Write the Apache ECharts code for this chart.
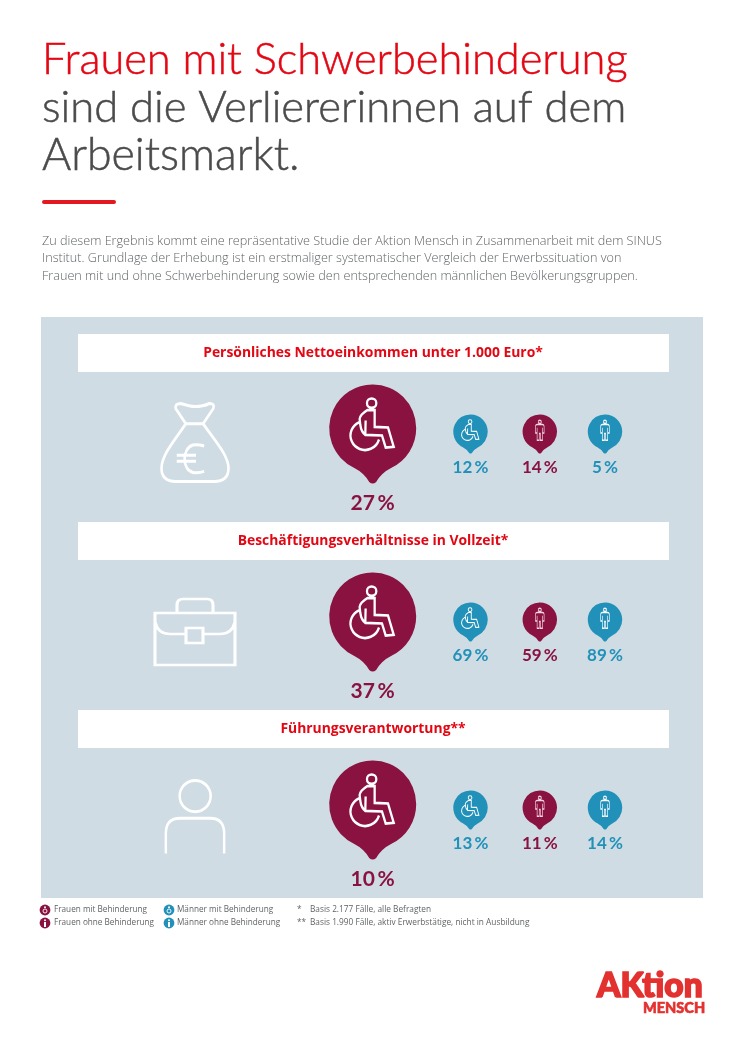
<!DOCTYPE html>
<html><head><meta charset="utf-8">
<style>html,body{margin:0;padding:0;background:#fff}#c{width:746px;height:1055px}</style>
<script src="https://cdn.jsdelivr.net/npm/echarts@6/dist/echarts.min.js"></script>
</head><body><div id="c"></div>
<script>
// ---- data ----
const metrics = ['Persönliches Nettoeinkommen unter 1.000 Euro*','Beschäftigungsverhältnisse in Vollzeit*','Führungsverantwortung**'];
const groups = ['Frauen mit Behinderung','Männer mit Behinderung','Frauen ohne Behinderung','Männer ohne Behinderung'];
const frauenMitBehinderung = [27,37,10];
const maennerMitBehinderung = [12,69,13];
const frauenOhneBehinderung = [14,59,11];
const maennerOhneBehinderung = [5,89,14];
const titleRed = 'Frauen mit Schwerbehinderung';
const titleDark = ['sind die Verliererinnen auf dem','Arbeitsmarkt.'];
const intro = ['Zu diesem Ergebnis kommt eine repräsentative Studie der Aktion Mensch in Zusammenarbeit mit dem SINUS','Institut. Grundlage der Erhebung ist ein erstmaliger systematischer Vergleich der Erwerbssituation von','Frauen mit und ohne Schwerbehinderung sowie den entsprechenden männlichen Bevölkerungsgruppen.'];
const footnotes = [['*','Basis 2.177 Fälle, alle Befragten'],['**','Basis 1.990 Fälle, aktiv Erwerbstätige, nicht in Ausbildung']];

// ---- style / layout ----
const MAROON='#8a1240', TEAL='#2191b9', RED='#e30613', DARK='#4b4b4b', GREY='#606466', PANEL='#cfdce4';
const PIN='path://M43.5 0A43.5 43.5 0 0 1 62 83Q52 88 47 97Q43.5 100 40 97Q35 88 25 83A43.5 43.5 0 0 1 43.5 0Z';
const CHAIR='path://M139 53A14 14 0 1 1 111 53A14 14 0 1 1 139 53ZM112 74L134 74L134 124L174 126L191 184L167 186L156 150L106 148Q94 140 91 118L89 100Q90 88 112 74ZM106 148L107 105M88 110A43.5 43.5 0 1 0 147 162';
const MAN='path://M23 8A6 6 0 1 1 11 8A6 6 0 1 1 23 8ZM7 18H27Q33 18 33 26V50H27V78H19V52H15V78H7V50H1V26Q1 18 7 18ZM7 30V50M27 30V50';
const BAG='path://M186 424L176 409Q175 404 181 404Q190 407 195 407Q203 407 209 404Q215 404 213 409L203 424ZM186 424C175 440 162 455 162 468Q162 481 176 481H214Q228 481 228 468C228 455 214 440 203 424M204 446Q198 444 193 445C182 448 182 470 193 472Q198 473 204 471M177 455H196M177 461H196';
const CASE='path://M155 613H235V665H155ZM177 613V605Q177 599 183 599H207Q213 599 213 605V613M155 622Q158 634 170 634H186M203 634H220Q232 634 235 622M186 628H203V643H186Z';
const PERSON='path://M210.5 796A15.5 15.5 0 1 1 179.5 796A15.5 15.5 0 1 1 210.5 796ZM165.7 853V833Q165.7 818 180 818H210Q224 818 224 833V853';
const FONT='Lato, "Open Sans", sans-serif';

const cols=[
 {vals:frauenMitBehinderung,cx:372.7,color:MAROON,pin:[87,99],icon:CHAIR,iconSize:[43.2,51.5],iconOff:[-.6,-9.75],iconW:2.5,iconC:'#fff',font:21,dist:9},
 {vals:maennerMitBehinderung,cx:470.5,color:TEAL,pin:[34.5,39.2],icon:CHAIR,iconSize:[17.3,20.6],iconOff:[-.25,-3.9],iconW:1,iconC:'#fff',font:17,dist:5},
 {vals:frauenOhneBehinderung,cx:539.8,color:MAROON,pin:[34.5,39.2],icon:MAN,iconSize:[8.6,20],iconOff:[0,-3.7],iconW:1,iconC:'#f6d6e0',font:17,dist:5},
 {vals:maennerOhneBehinderung,cx:605,color:TEAL,pin:[34.5,39.2],icon:MAN,iconSize:[8.6,20],iconOff:[0,-3.7],iconW:1,iconC:'#fff',font:17,dist:5}
];
const grid=[],xAxis=[],yAxis=[],series=[];
cols.forEach((c,i)=>{
  grid.push({left:c.cx-40,width:80,top:340,height:564});
  xAxis.push({type:'category',gridIndex:i,data:[groups[i]],show:false});
  yAxis.push({type:'category',gridIndex:i,data:metrics,inverse:true,show:false});
  const d=c.vals.map((v,r)=>[groups[i],metrics[r],v]);
  series.push({type:'scatter',name:groups[i],xAxisIndex:i,yAxisIndex:i,data:d,symbol:PIN,symbolSize:c.pin,clip:false,
    encode:{x:0,y:1},itemStyle:{color:c.color,opacity:1},
    label:{show:true,position:'bottom',distance:c.dist,formatter:p=>p.data[2]+'\u2009%',color:c.color,fontFamily:FONT,fontWeight:700,fontSize:c.font},
    emphasis:{disabled:true},silent:true,z:3});
  series.push({type:'scatter',xAxisIndex:i,yAxisIndex:i,data:d,symbol:c.icon,symbolSize:c.iconSize,symbolOffset:c.iconOff,clip:false,
    encode:{x:0,y:1},itemStyle:{color:'rgba(0,0,0,0)',borderColor:c.iconC,borderWidth:c.iconW,opacity:1},
    emphasis:{disabled:true},silent:true,z:4});
});
// topic icons, one per metric row
grid.push({left:155,width:80,top:340,height:564});
xAxis.push({type:'category',gridIndex:4,data:['Thema'],show:false});
yAxis.push({type:'category',gridIndex:4,data:metrics,inverse:true,show:false});
const topic=[[BAG,[67,78],8.5],[CASE,[80,66],10],[PERSON,[58.3,73],7]];
series.push({type:'scatter',xAxisIndex:4,yAxisIndex:4,clip:false,silent:true,z:4,emphasis:{disabled:true},
  itemStyle:{color:'rgba(0,0,0,0)',borderColor:'#fff',borderWidth:2.8,opacity:1},
  data:metrics.map((m,r)=>({value:['Thema',m],symbol:topic[r][0],symbolSize:topic[r][1],symbolOffset:[0,topic[r][2]]}))});

// ---- static page furniture ----
const g=[];
const txt=(text,x,y,font,fill,extra)=>g.push(Object.assign({type:'text',x,y,silent:true,style:Object.assign({text,x:0,y:0,font,fill,textVerticalAlign:'middle'},extra&&extra.style||{})},extra&&extra.el||{}));
txt(titleRed,42,60,'300 43.4px Lato',RED,{style:{stroke:RED,lineWidth:.5}});
titleDark.forEach((t,i)=>txt(t,42,108+i*48,'300 '+[43.6,44.7][i]+'px Lato',DARK,{style:{stroke:DARK,lineWidth:.5}}));
g.push({type:'rect',shape:{x:42,y:200,width:74,height:4,r:2},style:{fill:'#e2191f'},silent:true});
intro.forEach((t,i)=>txt(t,42,241+i*17.7,'300 12.65px "Open Sans"',GREY));
g.push({type:'rect',shape:{x:41,y:317,width:662,height:581},style:{fill:PANEL},silent:true,z:0});
metrics.forEach((m,i)=>{
  g.push({type:'rect',shape:{x:78,y:334+i*188,width:591,height:38},style:{fill:'#fff'},silent:true,z:1});
  txt(m,373,353.5+i*188,'700 13.9px "Open Sans"',RED,{style:{textAlign:'center'},el:{z:2}});
});
// legend
[[0,45,910,54,1],[2,45,923,54,0],[1,169,910,177,1],[3,169,923,177,0]].forEach(([k,x,y,tx,chair])=>{
  g.push({type:'circle',shape:{cx:x,cy:y,r:5.4},style:{fill:cols[k].color},silent:true});
  g.push({type:'circle',shape:{cx:x,cy:y-2.8,r:1},style:{fill:'#fff'},silent:true});
  if(chair) g.push({type:'circle',shape:{cx:x,cy:y+1,r:2},style:{fill:'none',stroke:'#fff',lineWidth:.9},silent:true});
  else g.push({type:'rect',shape:{x:x-1,y:y-1,width:2,height:5},style:{fill:'#fff'},silent:true});
  txt(groups[k],tx,y,'400 8.2px "Open Sans"',GREY);
});
footnotes.forEach(([s,t],i)=>{txt(s,297,910+i*13,'400 8.3px "Open Sans"',GREY);txt(t,310,910+i*13,'400 8.3px "Open Sans"',GREY);});
// logo
txt('AKtion',597,986,'900 33.5px Lato','#e3312f',{style:{stroke:'#e3312f',lineWidth:1.6}});
txt('MENSCH',643,1008,'900 14.5px Lato','#e3312f',{style:{stroke:'#e3312f',lineWidth:.6}});

const chart=echarts.init(document.getElementById('c'),null,{renderer:'canvas'});
chart.setOption({animation:false,backgroundColor:'#fff',tooltip:{show:false},legend:{show:false},grid,xAxis,yAxis,series,graphic:{elements:g}});
</script></body></html>
